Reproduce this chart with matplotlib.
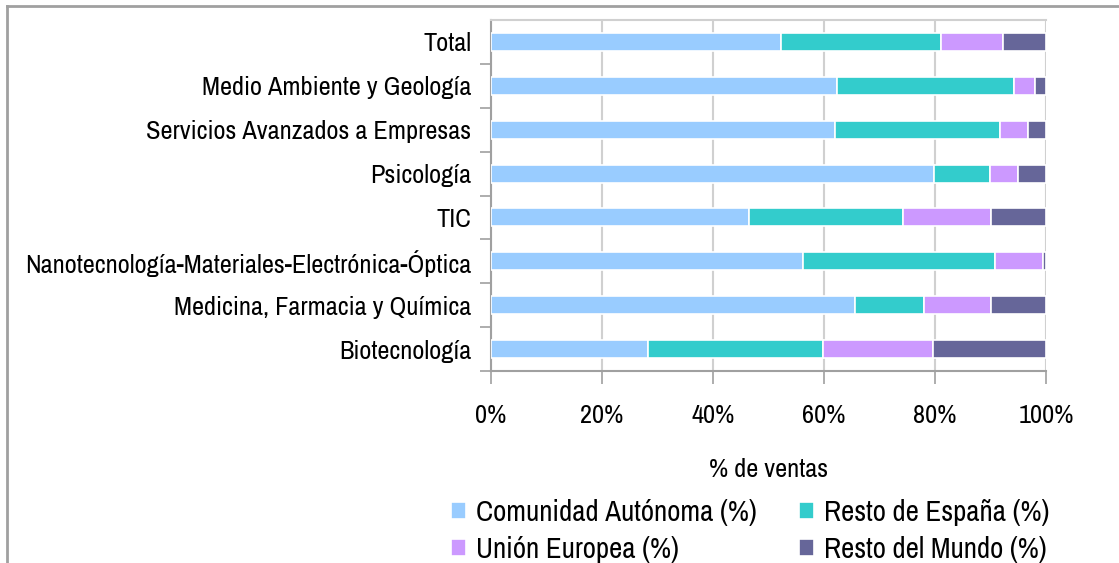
import numpy as np
import matplotlib
matplotlib.use('Agg')
from matplotlib import pyplot as plt
from matplotlib.lines import Line2D

plt.rcParams['font.family'] = ['Liberation Sans Narrow', 'Arial Narrow', 'Archivo Narrow',
                               'PT Sans Narrow', 'Roboto Condensed', 'Liberation Sans',
                               'DejaVu Sans']

categories = [
    'Total',
    'Medio Ambiente y Geología',
    'Servicios Avanzados a Empresas',
    'Psicología',
    'TIC',
    'Nanotecnología-Materiales-Electrónica-Óptica',
    'Medicina, Farmacia y Química',
    'Biotecnología',
]
comunidad = [52.3, 62.3, 62.0, 79.9, 46.5, 56.2, 65.5, 28.3]
resto_espana = [28.7, 31.9, 29.7, 10.0, 27.8, 34.6, 12.5, 31.5]
union_europea = [11.2, 3.8, 5.0, 5.1, 15.7, 8.7, 12.1, 19.9]
resto_mundo = [7.8, 2.0, 3.3, 5.0, 10.0, 0.5, 9.9, 20.3]

series_names = ['Comunidad Autónoma (%)', 'Resto de España (%)',
                'Unión Europea (%)', 'Resto del Mundo (%)']
colors = ['#99CCFF', '#33CCCC', '#CC99FF', '#666699']
xticks = [0, 20, 40, 60, 80, 100]
xtick_labels = ['0%', '20%', '40%', '60%', '80%', '100%']

fs = 19
fs_legend = 20.8

fig = plt.figure(figsize=(11.19, 5.63), dpi=100)
ax = fig.add_axes([0.4388, 0.341, 0.496, 0.6234])

y = np.arange(len(categories))[::-1]
left = np.zeros(len(categories))
handles = []
for vals, color, name in zip([comunidad, resto_espana, union_europea, resto_mundo],
                             colors, series_names):
    b = ax.barh(y, vals, left=left, height=0.41, color=color,
                edgecolor='white', linewidth=1.2, label=name, zorder=3)
    handles.append(b)
    left = left + np.array(vals)

ax.set_xlim(0, 100)
ax.set_ylim(-0.5, len(categories) - 0.5)
ax.set_xticks(xticks)
ax.set_xticklabels(xtick_labels, fontsize=fs)
ax.set_yticks(y)
ax.set_yticklabels(categories, fontsize=fs)
ax.set_yticks(np.arange(len(categories)) - 0.5, minor=True)
ax.tick_params(axis='y', which='major', length=0, pad=14)
ax.tick_params(axis='y', which='minor', length=8, color='#a0a0a0', width=1.2)
ax.tick_params(axis='x', length=9, color='#a0a0a0', width=1.2, pad=15)
ax.grid(axis='x', color='#d0d0d0', linewidth=1.5, zorder=0)

for side in ['left', 'bottom']:
    ax.spines[side].set_color('#a0a0a0')
    ax.spines[side].set_linewidth(1.5)
ax.spines['top'].set_color('#d0d0d0')
ax.spines['top'].set_linewidth(1.5)
ax.spines['right'].set_visible(False)

ax.set_xlabel('% de ventas', fontsize=fs, labelpad=22)

order = [0, 2, 1, 3]
fig.legend([handles[i] for i in order], [series_names[i] for i in order],
           ncol=2, loc='upper left', bbox_to_anchor=(0.403, 0.1137),
           frameon=False, fontsize=fs_legend, handlelength=0.52, handleheight=0.52,
           handletextpad=0.35, columnspacing=1.45, labelspacing=0.33,
           borderpad=0, borderaxespad=0)

# outer frame (top and left edges)
fig.add_artist(Line2D([7 / 1119, 1.0], [1 - 6 / 563, 1 - 6 / 563],
                      color='#a0a0a0', linewidth=2))
fig.add_artist(Line2D([7 / 1119, 7 / 1119], [0, 1 - 6 / 563],
                      color='#a0a0a0', linewidth=2))

plt.savefig('out.png', dpi=100)
